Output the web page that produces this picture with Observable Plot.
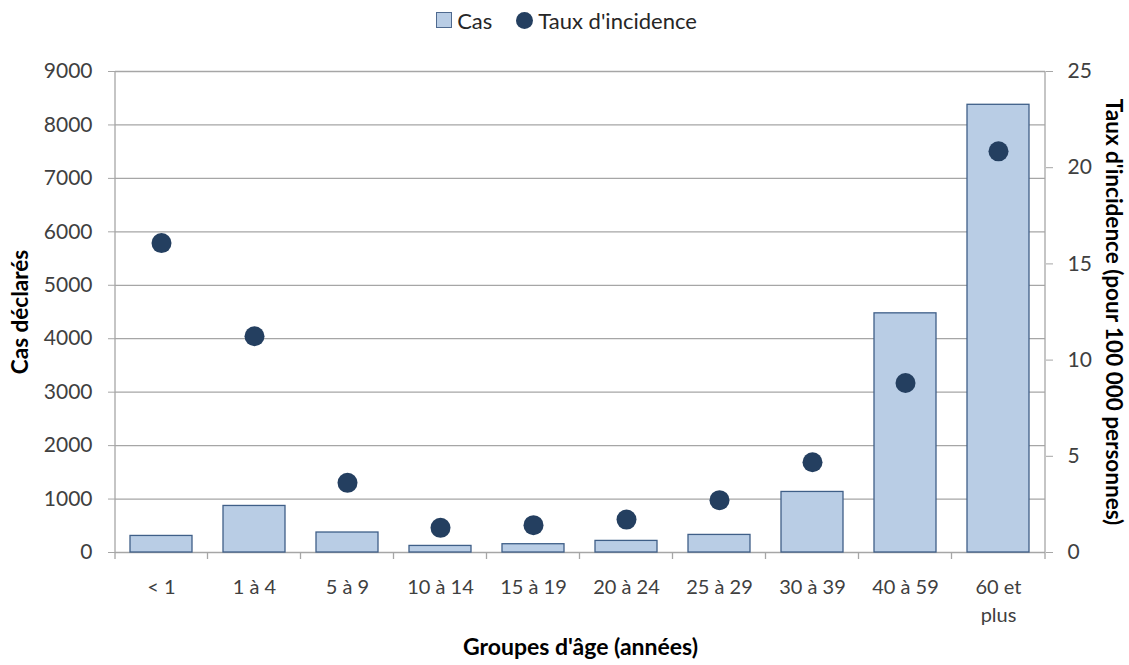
<!DOCTYPE html>
<html><head><meta charset="utf-8">
<script src="https://cdn.jsdelivr.net/npm/d3@7"></script>
<script src="https://cdn.jsdelivr.net/npm/@observablehq/plot@0.6"></script>
<style>
body{margin:0;background:#fff;font-family:Lato,"Open Sans",sans-serif;}
#legend{height:40px;display:flex;align-items:center;justify-content:center;font-size:22px;color:#262626;padding-left:4px;}
#legend .item{display:flex;align-items:center;margin:0 12px;}
#legend .sq{width:14px;height:14px;background:#b9cde5;border:1px solid #4f6a8f;margin-right:5px;}
#legend .ci{width:17px;height:17px;border-radius:50%;background:#243f60;margin-right:5px;}
#chart svg{overflow:visible;}
</style></head>
<body>
<div id="legend"><div class="item"><div class="sq"></div>Cas</div><div class="item"><div class="ci"></div>Taux d'incidence</div></div>
<div id="chart"></div>
<script>
const categories = ["< 1","1 à 4","5 à 9","10 à 14","15 à 19","20 à 24","25 à 29","30 à 39","40 à 59","60 et plus"];
const cases = [310, 871, 374, 123, 155, 217, 329, 1133, 4475, 8377];
const rates = [16.08, 11.24, 3.62, 1.28, 1.42, 1.71, 2.72, 4.69, 8.81, 20.85];
const leftTicks = [0,1000,2000,3000,4000,5000,6000,7000,8000,9000];
const rightTicks = [0,5,10,15,20,25];
const casesMax = 9000, ratesMax = 25;
const k = casesMax / ratesMax;

const data = categories.map((c,i)=>({cat:c, cases:cases[i], rate:rates[i]}));

function categoryTicks(index, scales, values, dims) {
  const x = scales.x;
  let bw = typeof x.bandwidth === "function" ? x.bandwidth() : x.bandwidth;
  const starts = categories.map(c => x(c));
  const step = starts[1] - starts[0];
  if (bw == null) bw = step * 0.67;
  const bounds = [dims.marginLeft];
  for (let i = 0; i < starts.length - 1; i++) bounds.push((starts[i] + starts[i+1]) / 2 + bw / 2);
  bounds.push(dims.width - dims.marginRight);
  const y0 = dims.height - dims.marginBottom;
  const g = d3.create("svg:g").attr("stroke", "#a6a6a6").attr("stroke-width", 1.3);
  for (const b of bounds) g.append("line").attr("x1", b).attr("x2", b).attr("y1", y0).attr("y2", y0 + 7);
  g.append("line").attr("x1", dims.marginLeft).attr("x2", dims.marginLeft).attr("y1", dims.marginTop).attr("y2", y0);
  g.append("line").attr("x1", dims.width - dims.marginRight).attr("x2", dims.width - dims.marginRight).attr("y1", dims.marginTop).attr("y2", y0);
  return g.node();
}

const chart = Plot.plot({
  width: 1129,
  height: 625,
  marginTop: 31,
  marginBottom: 113,
  marginLeft: 115,
  marginRight: 84,
  style: {fontFamily: "Lato, 'Open Sans', sans-serif", fontSize: "20px", color: "#404040", background: "#fff"},
  x: {domain: categories, paddingInner: 0.33, paddingOuter: 0.165, axis: null},
  y: {domain: [0, casesMax], axis: null},
  marks: [
    Plot.gridY(leftTicks, {stroke: "#a6a6a6", strokeOpacity: 1, strokeWidth: 1.3}),
    Plot.barY(data, {x: "cat", y: "cases", fill: "#b9cde5", stroke: "#3f5f88", strokeWidth: 1.3}),
    Plot.dot(data, {x: "cat", y: d => d.rate * k, r: 10, fill: "#243f60", stroke: "none"}),
    categoryTicks,
    Plot.axisX({tickSize: 0, tickPadding: 22, fontSize: 20, fill: "#404040", label: null,
      tickFormat: d => d === "60 et plus" ? "60 et\nplus" : d, lineHeight: 1.4, textAnchor: "middle"}),
    Plot.axisY({anchor: "left", ticks: leftTicks, tickSize: 7, tickPadding: 16, stroke: "#a6a6a6", fontSize: 21, tickFormat: d => String(d), label: null}),
    Plot.axisY({anchor: "right", ticks: rightTicks.map(v => v * k), tickSize: 7, tickPadding: 15, stroke: "#a6a6a6", fontSize: 21, tickFormat: d => String(Math.round(d / k)), label: null}),
    Plot.text(["Cas déclarés"], {frameAnchor: "left", dx: -95, rotate: -90, textAnchor: "middle", fontWeight: "bold", fontSize: 22.5, fill: "#000"}),
    Plot.text(["Taux d'incidence (pour 100 000 personnes)"], {frameAnchor: "right", dx: 68, rotate: 90, textAnchor: "middle", fontWeight: "bold", fontSize: 22.5, fill: "#000"}),
    Plot.text(["Groupes d'âge (années)"], {frameAnchor: "bottom", dy: 102, textAnchor: "middle", fontWeight: "bold", fontSize: 23, fill: "#000"})
  ]
});
document.getElementById("chart").append(chart);
</script>
</body></html>
